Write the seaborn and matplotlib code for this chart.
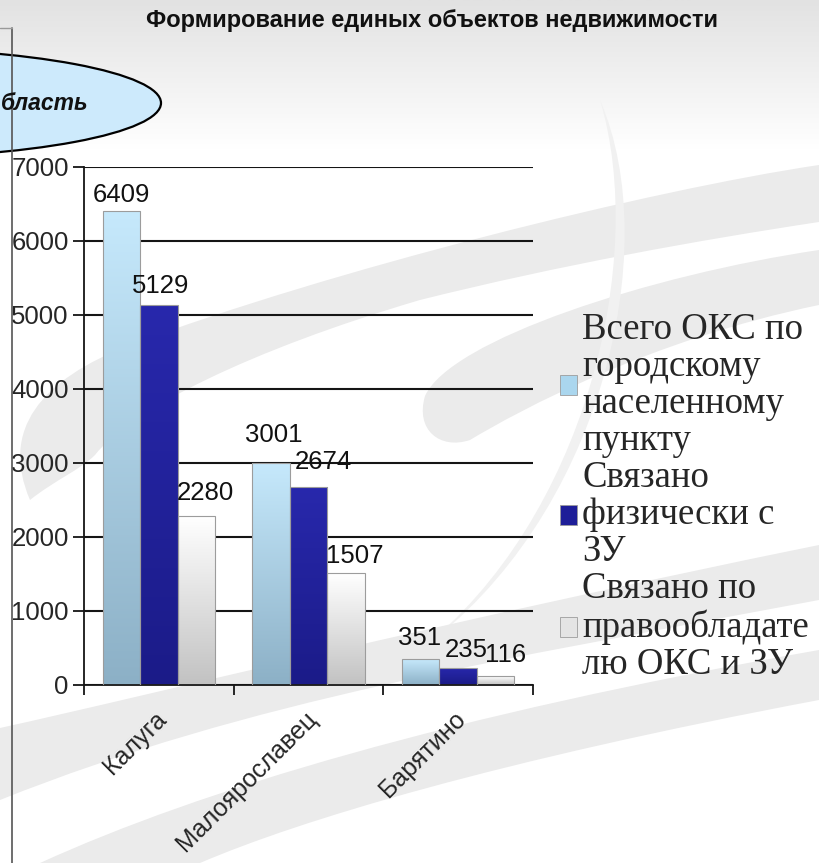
"""
Формирование единых объектов недвижимости - stubicasti dijagram sa slajda.
Sprema out.png (819x863).
"""
import matplotlib
matplotlib.use("Agg")
import matplotlib.pyplot as plt
import numpy as np
import pandas as pd
import seaborn as sns
from matplotlib.colors import LinearSegmentedColormap
from matplotlib.patches import Ellipse, Patch, PathPatch
from matplotlib.path import Path
from matplotlib.transforms import ScaledTranslation

W, H, DPI = 819, 863, 100

# Podaci
cities = ["Калуга", "Малоярославец", "Барятино"]
series_names = [
    "Всего ОКС по\nгородскому\nнаселенному\nпункту",
    "Связано\nфизически с\nЗУ",
    "Связано по\nправообладате\nлю ОКС и ЗУ",
]
total_oks = [6409, 3001, 351]
linked_physical = [5129, 2674, 235]
linked_owner = [2280, 1507, 116]
y_ticks = [0, 1000, 2000, 3000, 4000, 5000, 6000, 7000]
title = "Формирование единых объектов недвижимости"
region_label = "бласть"  # vidljivi dio natpisa u elipsi

# Stil
bar_top = ["#c6e9fc", "#2828ac", "#ffffff"]
bar_bottom = ["#8cb0c6", "#1b1b88", "#c2c2c2"]
legend_colors = ["#aad6ee", "#1e1e98", "#e4e4e4"]
# pomak oznaka vrijednosti (px) kao u originalu: [serija][grad]
label_shift = [[(0, 0), (3, 12), (-1, 5)],
               [(2, 3), (15, 9), (8, 2)],
               [(9, 7), (9, 1), (10, 5)]]
FS = 18.5

df = pd.DataFrame({
    "grad": cities * 3,
    "serija": [s for s in series_names for _ in cities],
    "vrijednost": total_oks + linked_physical + linked_owner,
})

sns.set_theme(style="white")
plt.rcParams["font.family"] = ["Liberation Sans", "DejaVu Sans"]

fig = plt.figure(figsize=(W / DPI, H / DPI), dpi=DPI)
fig.patch.set_facecolor("white")

# Pozadina slajda (pikselne koordinate)
bg = fig.add_axes([0, 0, 1, 1], zorder=-10)
bg.set_xlim(0, W)
bg.set_ylim(H, 0)
bg.axis("off")
top_cmap = LinearSegmentedColormap.from_list("top", ["#e2e2e2", "#ffffff"])
bg.imshow(np.linspace(0, 1, 100).reshape(-1, 1), extent=[0, W, 150, 0],
          cmap=top_cmap, aspect="auto")


def swoosh(ax, start, segs, color="#ebebeb"):
    verts, codes = [start], [Path.MOVETO]
    for s in segs:
        if len(s) == 3:
            verts += list(s)
            codes += [Path.CURVE4] * 3
        else:
            verts.append(s)
            codes.append(Path.LINETO)
    verts.append(start)
    codes.append(Path.CLOSEPOLY)
    ax.add_patch(PathPatch(Path(verts, codes), facecolor=color, edgecolor="none"))


swoosh(bg, (819, 165), [((650, 190), (330, 270), (130, 345)),
                        ((40, 380), (0, 430), (30, 500)),
                        ((55, 480), (80, 470), (95, 455)),
                        ((130, 410), (250, 350), (420, 300)),
                        ((560, 265), (700, 240), (819, 222))])
swoosh(bg, (819, 250), [((650, 275), (450, 340), (425, 396)),
                        ((415, 430), (440, 450), (470, 440)),
                        ((520, 410), (650, 340), (819, 305))])
swoosh(bg, (600, 100), [((665, 250), (600, 520), (420, 650)),
                        ((585, 520), (648, 260), (600, 100))], "#f1f1f1")
swoosh(bg, (0, 728), [((150, 695), (450, 620), (819, 545)), (819, 600),
                      ((500, 660), (250, 700), (0, 800))])
swoosh(bg, (40, 863), [((200, 790), (450, 715), (819, 650)), (819, 700),
                       ((500, 760), (300, 820), (200, 863))])

# Glavni dijagram
ax = fig.add_axes([84 / W, 1 - 685 / H, (533 - 84) / W, (685 - 167) / H])
ax.patch.set_alpha(0)
sns.barplot(data=df, x="grad", y="vrijednost", hue="serija",
            order=cities, hue_order=series_names, palette=legend_colors,
            width=0.75, saturation=1, edgecolor="#9c9c9c", linewidth=0.8,
            legend=False, ax=ax)

grad = np.linspace(0, 1, 256).reshape(-1, 1)
for p in list(ax.patches):
    xc = p.get_x() + p.get_width() / 2
    ci = int(round(xc))
    si = int(round((xc - ci) / 0.25)) + 1
    h = p.get_height()
    cmap = LinearSegmentedColormap.from_list(f"b{si}", [bar_bottom[si], bar_top[si]])
    im = ax.imshow(grad, cmap=cmap, origin="lower", aspect="auto",
                   extent=[p.get_x(), p.get_x() + p.get_width(), 0, h],
                   zorder=2, interpolation="bilinear")
    im.set_clip_path(p)
    p.set_facecolor("none")
    p.set_zorder(3)
    dx, dy = label_shift[si][ci]
    ax.annotate(f"{int(round(h))}", xy=(xc, h), xytext=(dx * 0.72, (9 + dy) * 0.72),
                textcoords="offset points", ha="center", va="baseline",
                fontsize=FS, color="#111111", zorder=4)

ax.set_xlim(-0.5, 2.5)
ax.set_ylim(0, 7000)
ax.set_yticks(y_ticks)
ax.set_xticks(range(len(cities)))
ax.set_xticklabels(cities, rotation=45, ha="right", rotation_mode="anchor", va="center")
ax.set_xticks([-0.5, 0.5, 1.5, 2.5], minor=True)
ax.set_xlabel("")
ax.set_ylabel("")

ax.yaxis.grid(True, color="#151515", lw=1.5)
ax.set_axisbelow(True)
for side in ("top", "right"):
    ax.spines[side].set_visible(False)
for side in ("left", "bottom"):
    ax.spines[side].set_color("#151515")
    ax.spines[side].set_linewidth(1.3)

ax.tick_params(axis="y", length=8, width=1.3, direction="out", pad=3,
               labelsize=FS, color="#151515", left=True)
ax.tick_params(axis="x", which="major", length=0, pad=22, labelsize=18)
ax.tick_params(axis="x", which="minor", length=7, width=1.3, direction="out",
               color="#151515", bottom=True)
shift = ScaledTranslation(4 / DPI, 0, fig.dpi_scale_trans)
for lbl in ax.get_xticklabels():
    lbl.set_transform(lbl.get_transform() + shift)

handles = [Patch(facecolor=c, edgecolor="#9c9c9c", lw=0.6, label=s)
           for c, s in zip(legend_colors, series_names)]
leg = ax.legend(handles=handles, loc="upper left", bbox_to_anchor=(560 / W, 1 - 312 / H),
                bbox_transform=fig.transFigure, frameon=False,
                prop={"family": "Liberation Serif", "size": 26.5},
                handlelength=0.46, handleheight=0.46, handletextpad=0.15,
                labelspacing=0.07, borderpad=0, borderaxespad=0)
for t in leg.get_texts():
    t.set_linespacing(1.1)

# Naslov, elipsa i okvir slajda
ov = fig.add_axes([0, 0, 1, 1], zorder=10)
ov.set_xlim(0, W)
ov.set_ylim(H, 0)
ov.axis("off")
ov.patch.set_alpha(0)
ov.plot([12, 12], [28, H], color="#555555", lw=1.2)
ov.plot([0, 12], [28, 28], color="#999999", lw=1.0)
ov.add_patch(Ellipse((-133, 103), 588, 110, facecolor="#cdeafc", edgecolor="black", lw=1.6))
ov.text(1, 104, region_label, ha="left", va="center", fontsize=16.5,
        fontweight="bold", style="italic", color="#111111")
ov.text(432, 20, title, ha="center", va="center", fontsize=17,
        fontweight="bold", color="#111111")

fig.savefig("out.png", dpi=DPI)
